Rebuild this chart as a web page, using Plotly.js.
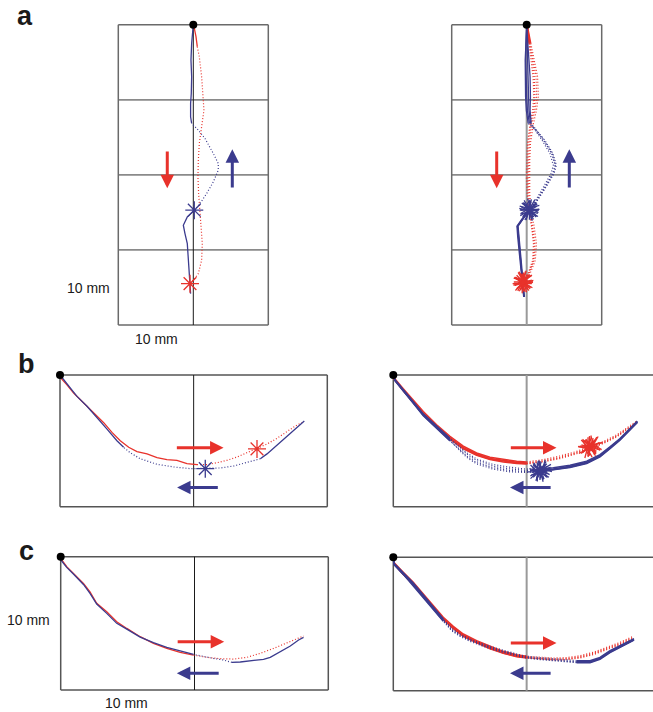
<!DOCTYPE html>
<html>
<head>
<meta charset="utf-8">
<script src="https://cdn.plot.ly/plotly-3.0.1.min.js"></script>
<style>
html,body{margin:0;padding:0;background:#fff;overflow:hidden;}
#chart{width:653px;height:712px;}
</style>
</head>
<body>
<div id="chart"></div>
<script>
// ===== DATA (mm; x = lateral, y = depth, start point at 0/0 or -10/0) =====
// Panel a, left (single trial)
const aL_red_x = [0,0.09,0.36,0.53,0.8,1.11,1.33,1.42,1.11,0.8,0.67,0.62,0.71,0.89,1.02,1.2,1.11,0.67,0,-0.44];
const aL_red_y = [0,-0.27,-1.6,-2.93,-4.27,-6.93,-9.6,-11.38,-13.6,-15.82,-18.04,-20.27,-22.49,-24.71,-26.93,-29.16,-31.38,-33.16,-34.04,-34.49];
const aL_blue_x = [-0.36,-0.53,-0.67,-0.8,-1.11,-1.33,-0.8,0.13,0.89,1.78,2.67,3.33,3.33,2.67,1.56,0.67,-0.22,-0.36,-0.36,-0.27,-0.22,-0.31,-0.22,-0.09,0];
const aL_blue_y = [-35.82,-33.6,-31.38,-29.16,-27.82,-26.71,-25.6,-24.71,-23.82,-22.49,-20.93,-19.38,-18.49,-17.16,-15.16,-14.04,-13.16,-12.27,-10.49,-9.16,-6.93,-4.71,-2.49,-0.71,0];
const aL_redStar_x = [-0.44], aL_redStar_y = [-34.49];
const aL_blueStar_x = [0.13], aL_blueStar_y = [-24.71];

// Panel a, right (several trials)
const aR_red_y = [0,-0.27,-2.49,-4.71,-6.93,-9.6,-11.38,-13.16,-15.82,-18.04,-20.27,-22.49,-24.71,-26.93,-29.16,-31.38,-33.38,-34.27];
const aR_red1_x = [0,0.09,0.44,0.89,1.24,1.33,1.11,0.67,0.36,0.27,0.22,0.27,0.44,0.8,1.11,0.98,0.22,-0.44];
const aR_red2_x = [0,0.05,0.3,0.6,0.85,0.95,0.8,0.45,0.1,0.0,-0.05,0.05,0.3,0.65,0.9,0.8,0.1,-0.5];
const aR_red3_x = [0,0.12,0.55,1.05,1.45,1.55,1.3,0.9,0.5,0.4,0.35,0.4,0.6,1.0,1.3,1.15,0.35,-0.35];
const aR_red4_x = [0,0.07,0.35,0.75,1.0,1.1,0.95,0.55,0.2,0.12,0.1,0.15,0.35,0.7,1.0,0.9,0.15,-0.6];
const aR_blue_y = [-36.27,-33.6,-30.93,-28.27,-26.84,-25.82,-24.71,-23.38,-21.6,-19.82,-18.71,-17.16,-15.38,-13.96,-13.16,-11.38,-9.6,-6.93,-4.71,-2.49,-0.27,0];
const aR_blue1_x = [-0.36,-0.62,-0.89,-1.11,-1.24,-0.53,0.36,1.33,2.44,3.47,3.78,3.33,2.22,1.11,0.36,0.09,0.0,-0.09,-0.13,-0.09,0.0,0];
const aR_blue2_x = [-0.3,-0.55,-0.8,-1.0,-1.15,-0.45,0.3,1.2,2.25,3.25,3.55,3.1,2.05,1.0,0.5,0.3,0.25,0.2,0.15,0.05,0.0,0];
const aR_blue3_x = [-0.4,-0.7,-0.95,-1.2,-1.3,-0.6,0.4,1.45,2.6,3.65,3.95,3.5,2.4,1.25,0.6,0.45,0.5,0.45,0.3,0.1,0.0,0];
const aR_blue4_x = [-0.38,-0.6,-0.85,-1.05,-1.2,-0.5,0.42,1.38,2.5,3.55,3.85,3.4,2.3,1.2,0.2,-0.05,-0.15,-0.2,-0.2,-0.1,0.0,0];
const aR_redStar_x = [-0.44,-0.5,-0.35,-0.6,-0.4,-0.55];
const aR_redStar_y = [-34.27,-34.1,-34.4,-34.5,-34.0,-34.35];
const aR_blueStar_x = [0.36,0.3,0.4,0.42,0.25,0.45];
const aR_blueStar_y = [-24.71,-24.5,-24.9,-24.6,-24.8,-24.4];

// Panel b, left
const bL_red_x = [-10,-9.93,-9.48,-8.98,-8.23,-7.48,-6.73,-6.11,-5.49,-4.86,-4.24,-3.49,-2.74,-2.0,-1.25,-0.5,0.25,1.0,1.75,2.49,3.24,3.99,4.74,5.49,6.23,6.98,7.61,8.10];
const bL_red_y = [0,-0.25,-0.75,-1.37,-2.12,-2.87,-3.62,-4.36,-4.99,-5.49,-5.81,-5.99,-6.28,-6.43,-6.48,-6.73,-6.81,-6.81,-6.66,-6.48,-6.23,-5.91,-5.61,-5.24,-4.81,-4.31,-3.87,-3.62];
const bL_blue_x = [8.28,7.73,6.98,6.23,5.49,4.99,3.99,2.99,2.0,0.87,-0.25,-1.50,-2.74,-3.99,-4.74,-5.24,-5.74,-6.48,-7.23,-7.98,-8.73,-9.23,-9.73,-10];
const bL_blue_y = [-3.49,-3.99,-4.61,-5.36,-5.99,-6.36,-6.66,-6.91,-7.06,-7.11,-7.11,-6.98,-6.78,-6.36,-5.91,-5.49,-4.99,-4.11,-3.24,-2.37,-1.62,-1.0,-0.37,0];
const bL_redStar_x = [4.74], bL_redStar_y = [-5.61];
const bL_blueStar_x = [0.87], bL_blueStar_y = [-7.11];

// Panel b, right
const bR_red_x = [-10,-9.95,-9.25,-8.5,-7.75,-6.75,-5.75,-4.75,-3.75,-2.75,-1.75,-0.75,0,1.25,2.5,3.75,4.75,5.75,6.75,7.5,8.25];
const bR_red1_y = [0,-0.25,-1.13,-2.0,-2.88,-3.88,-4.75,-5.5,-6.0,-6.33,-6.5,-6.63,-6.68,-6.5,-6.25,-5.88,-5.5,-5.13,-4.63,-4.13,-3.58];
const bR_red2_y = [0,-0.3,-1.2,-2.1,-3.0,-4.0,-4.88,-5.6,-6.1,-6.42,-6.6,-6.72,-6.75,-6.6,-6.35,-5.98,-5.6,-5.2,-4.7,-4.2,-3.65];
const bR_red3_y = [0,-0.2,-1.05,-1.92,-2.78,-3.78,-4.65,-5.4,-5.92,-6.25,-6.42,-6.55,-6.6,-6.42,-6.15,-5.8,-5.42,-5.05,-4.55,-4.05,-3.5];
const bR_red4_y = [0,-0.28,-1.18,-2.05,-2.95,-3.95,-4.82,-5.55,-6.05,-6.38,-6.55,-6.68,-6.72,-6.55,-6.3,-5.92,-5.55,-5.15,-4.65,-4.15,-3.6];
const bR_blue_x = [8.3,7.75,7.0,6.25,5.5,4.5,3.25,2.0,1.0,0,-1.25,-2.5,-3.75,-4.5,-5.0,-5.75,-6.75,-7.75,-8.5,-9.25,-9.88,-10];
const bR_blue1_y = [-3.55,-4.13,-4.88,-5.5,-6.13,-6.63,-6.93,-7.13,-7.25,-7.25,-7.13,-6.93,-6.5,-6.0,-5.58,-4.88,-3.95,-3.0,-2.08,-1.18,-0.38,0];
const bR_blue2_y = [-3.6,-4.2,-4.95,-5.6,-6.22,-6.72,-7.02,-7.2,-7.32,-7.35,-7.25,-7.05,-6.65,-6.15,-5.7,-5.0,-4.05,-3.1,-2.15,-1.25,-0.42,0];
const bR_blue3_y = [-3.5,-4.08,-4.82,-5.45,-6.05,-6.55,-6.85,-7.05,-7.18,-7.15,-7.0,-6.8,-6.38,-5.9,-5.48,-4.8,-3.88,-2.95,-2.02,-1.12,-0.35,0];
const bR_blue4_y = [-3.58,-4.15,-4.9,-5.55,-6.18,-6.68,-6.98,-7.18,-7.3,-7.4,-7.35,-7.15,-6.75,-6.25,-5.75,-4.95,-4.0,-3.05,-2.1,-1.2,-0.4,0];
const bR_redStar_x = [4.6,4.8,4.9,4.7,4.55,5.0];
const bR_redStar_y = [-5.45,-5.5,-5.35,-5.4,-5.6,-5.3];
const bR_blueStar_x = [1.0,0.9,1.1,0.8,1.2,1.05];
const bR_blueStar_y = [-7.25,-7.3,-7.2,-7.35,-7.15,-7.4];

// Panel c, left
const cL_red_x = [-10,-9.95,-9.55,-9.05,-8.30,-7.81,-7.31,-6.56,-5.81,-5.06,-4.06,-3.07,-2.07,-1.07,-0.07,0.92,1.92,2.92,3.92,4.91,5.91,6.91,7.66,8.15];
const cL_red_y = [0,-0.2,-0.75,-1.25,-2.0,-2.63,-3.5,-4.13,-4.88,-5.38,-6.0,-6.5,-6.88,-7.18,-7.38,-7.55,-7.65,-7.68,-7.55,-7.25,-6.88,-6.45,-6.13,-5.95];
const cL_blue_x = [8.15,7.78,7.16,6.41,5.66,5.16,4.41,3.42,2.79,2.17,1.42,0.67,-0.07,-1.07,-2.07,-3.07,-4.06,-5.06,-5.81,-6.56,-7.31,-7.81,-8.30,-9.05,-9.55,-9.95,-10];
const cL_blue_y = [-6.05,-6.25,-6.7,-7.13,-7.55,-7.7,-7.8,-7.9,-7.93,-7.75,-7.63,-7.45,-7.33,-7.08,-6.8,-6.45,-6.03,-5.43,-5.0,-4.25,-3.55,-2.75,-2.08,-1.3,-0.8,-0.3,0];

// Panel c, right
const cR_red_x = [-10,-9.95,-9.25,-8.5,-7.75,-7.0,-6.25,-5.5,-4.75,-3.75,-2.75,-1.75,-0.75,0,1.0,2.0,3.0,4.0,5.0,6.0,7.0,8.0];
const cR_red1_y = [0,-0.45,-1.2,-1.95,-2.83,-3.7,-4.58,-5.25,-5.83,-6.33,-6.75,-7.13,-7.38,-7.5,-7.58,-7.63,-7.6,-7.45,-7.2,-6.83,-6.45,-6.0];
const cR_red2_y = [0,-0.5,-1.28,-2.05,-2.93,-3.82,-4.68,-5.35,-5.92,-6.42,-6.85,-7.2,-7.45,-7.55,-7.65,-7.7,-7.68,-7.55,-7.3,-6.93,-6.55,-6.1];
const cR_red3_y = [0,-0.4,-1.12,-1.88,-2.75,-3.62,-4.5,-5.18,-5.75,-6.25,-6.68,-7.05,-7.3,-7.42,-7.5,-7.55,-7.52,-7.38,-7.12,-6.75,-6.38,-5.92];
const cR_red4_y = [0,-0.48,-1.25,-2.0,-2.88,-3.75,-4.62,-5.3,-5.88,-6.38,-6.8,-7.18,-7.42,-7.52,-7.6,-7.66,-7.63,-7.5,-7.25,-6.88,-6.5,-6.05];
const cR_blue_x = [8.05,7.25,6.25,5.5,4.75,3.75,2.75,1.75,0.75,-0.25,-1.25,-2.25,-3.25,-4.25,-5.0,-5.63,-6.25,-7.0,-7.75,-8.5,-9.25,-9.95,-10];
const cR_blue1_y = [-6.15,-6.58,-7.08,-7.58,-7.83,-7.83,-7.75,-7.65,-7.58,-7.45,-7.2,-6.9,-6.58,-6.2,-5.83,-5.4,-4.7,-3.83,-2.9,-2.0,-1.2,-0.5,0];
const cR_blue2_y = [-6.2,-6.65,-7.15,-7.65,-7.9,-7.9,-7.82,-7.72,-7.65,-7.52,-7.28,-7.0,-6.68,-6.3,-5.92,-5.5,-4.8,-3.92,-2.98,-2.08,-1.28,-0.55,0];
const cR_blue3_y = [-6.1,-6.52,-7.0,-7.5,-7.75,-7.75,-7.68,-7.58,-7.5,-7.38,-7.12,-6.82,-6.5,-6.12,-5.75,-5.32,-4.62,-3.75,-2.82,-1.92,-1.12,-0.45,0];
const cR_blue4_y = [-6.18,-6.6,-7.1,-7.6,-7.86,-7.86,-7.78,-7.68,-7.6,-7.48,-7.24,-6.95,-6.62,-6.25,-5.88,-5.45,-4.75,-3.88,-2.95,-2.05,-1.25,-0.52,0];

// Start points
const startA_x = [0], startA_y = [0];
const startBC_x = [-10], startBC_y = [0];

// Text
const panelLetters = ['a','b','c'];
const scaleLabel = '10 mm';

// ===== STYLE =====
const RED = '#E8322B', BLUE = '#3B3B8E';
const W = 653, H = 712, PAD = 8;
const DOT = '1px,2px';

const traces = [];
const layout = {
  width: W, height: H, margin: {l:0, r:0, t:0, b:0},
  paper_bgcolor: '#fff', plot_bgcolor: 'rgba(0,0,0,0)',
  showlegend: false, shapes: [], annotations: [],
  font: {family: 'Liberation Sans, Arial, sans-serif', color: '#222'}
};

function setupPanel(n, L, R, T, B, x0, x1, y0, y1) {
  const sx = (R - L) / (x1 - x0), sy = (B - T) / (y1 - y0);
  const dl = L - PAD, dr = Math.min(W, R + PAD), dt = T - PAD, db = B + PAD;
  const ax = {domain: [dl / W, dr / W], range: [x0 - (L - dl) / sx, x0 + (dr - L) / sx],
    showgrid: false, zeroline: false, showticklabels: false, showline: false, ticks: '', fixedrange: true};
  const ay = {domain: [1 - db / H, 1 - dt / H], range: [y0 - (db - B) / sy, y1 + (T - dt) / sy],
    showgrid: false, zeroline: false, showticklabels: false, showline: false, ticks: '', fixedrange: true};
  const s = n === 1 ? '' : String(n);
  layout['xaxis' + s] = Object.assign(ax, {anchor: 'y' + s});
  layout['yaxis' + s] = Object.assign(ay, {anchor: 'x' + s});
  return ['x' + s, 'y' + s];
}

const P = {
  aL: setupPanel(1, 118.3, 268.3, 24.7, 325, -10, 10, -40, 0),
  aR: setupPanel(2, 451.7, 601.7, 24.7, 325, -10, 10, -40, 0),
  bL: setupPanel(3, 60, 327.3, 375, 506.7, -10, 10, -10, 0),
  bR: setupPanel(4, 393.3, 660, 375, 506.7, -10, 10, -10, 0),
  cL: setupPanel(5, 60.7, 328.3, 556.7, 690, -10, 10, -10, 0),
  cR: setupPanel(6, 393.3, 660, 557.3, 690.7, -10, 10, -10, 0)
};

function line(p, x0, y0, x1, y1, color, width) {
  layout.shapes.push({type: 'line', xref: p[0], yref: p[1], x0, y0, x1, y1, layer: 'below',
    line: {color, width}});
}
function gridA(p, left) {
  [0, -40].forEach(y => line(p, -10, y, 10, y, '#6a6a6a', 1.5));
  [-10, -20, -30].forEach(y => line(p, -10, y, 10, y, '#8a8a8a', 1.8));
  [-10, 10].forEach(x => line(p, x, -40, x, 0, '#6a6a6a', 1.5));
  line(p, 0, -40, 0, 0, left ? '#1a1a1a' : '#9a9a9a', left ? 1 : 2);
}
function gridBC(p, left) {
  [0, -10].forEach(y => line(p, -10, y, 10, y, '#555', 1.5));
  line(p, -10, -10, -10, 0, '#555', 1.5);
  if (left) line(p, 10, -10, 10, 0, '#555', 1.5);
  line(p, 0, -10, 0, 0, left ? '#1a1a1a' : '#9a9a9a', left ? 1 : 2);
}
gridA(P.aL, true); gridA(P.aR, false);
gridBC(P.bL, true); gridBC(P.bR, false);
gridBC(P.cL, true); gridBC(P.cR, false);

function addPath(p, xs, ys, segs, color, width) {
  segs.forEach(([i0, i1, kind]) => {
    traces.push({type: 'scatter', mode: 'lines', x: xs.slice(i0, i1 + 1), y: ys.slice(i0, i1 + 1),
      xaxis: p[0], yaxis: p[1], hoverinfo: 'skip',
      line: {color, width: kind === 'dot' ? Math.min(width, 1.2) : width, dash: kind === 'dot' ? DOT : 'solid'}});
  });
}
function addStars(p, xs, ys, color, size, angles) {
  traces.push({type: 'scatter', mode: 'markers', x: xs, y: ys, xaxis: p[0], yaxis: p[1],
    hoverinfo: 'skip', cliponaxis: false,
    marker: {symbol: 'asterisk-open', size, color, angle: angles || 0, line: {color, width: 1.3}}});
}
function addStart(p, xs, ys) {
  traces.push({type: 'scatter', mode: 'markers', x: xs, y: ys, xaxis: p[0], yaxis: p[1],
    hoverinfo: 'skip', cliponaxis: false, marker: {size: 8, color: '#000'}});
}
function arrow(p, tx, ty, fx, fy, color) {
  layout.annotations.push({xref: p[0], yref: p[1], axref: p[0], ayref: p[1],
    x: tx, y: ty, ax: fx, ay: fy, text: '', showarrow: true,
    arrowhead: 2, arrowsize: 0.9, arrowwidth: 3, arrowcolor: color, standoff: 0, startstandoff: 0});
}
function label(text, px, py, size, bold, xanchor) {
  layout.annotations.push({xref: 'paper', yref: 'paper', x: px / W, y: 1 - py / H,
    xanchor: xanchor || 'center', yanchor: 'middle', showarrow: false,
    text: bold ? '<b>' + text + '</b>' : text,
    font: {size, color: '#1a1a1a', family: 'Liberation Sans, Arial, sans-serif'}});
}

// ----- Panel a left -----
addPath(P.aL, aL_red_x, aL_red_y, [[0, 3, 'solid'], [3, aL_red_x.length - 1, 'dot']], RED, 1.3);
addPath(P.aL, aL_blue_x, aL_blue_y, [[0, 7, 'solid'], [7, 16, 'dot'], [16, aL_blue_x.length - 1, 'solid']], BLUE, 1.3);
addStars(P.aL, aL_redStar_x, aL_redStar_y, RED, 15);
addStars(P.aL, aL_blueStar_x, aL_blueStar_y, BLUE, 15);
addStart(P.aL, startA_x, startA_y);

// ----- Panel a right -----
[aR_red1_x, aR_red2_x, aR_red3_x, aR_red4_x].forEach(xs =>
  addPath(P.aR, xs, aR_red_y, [[0, 2, 'solid'], [2, xs.length - 1, 'dot']], RED, 1.3));
[aR_blue1_x, aR_blue2_x, aR_blue3_x, aR_blue4_x].forEach(xs =>
  addPath(P.aR, xs, aR_blue_y, [[0, 6, 'solid'], [6, 14, 'dot'], [14, xs.length - 1, 'solid']], BLUE, 1.3));
addStars(P.aR, aR_redStar_x, aR_redStar_y, RED, 16, [0, 15, 30, 45, 60, 75]);
addStars(P.aR, aR_blueStar_x, aR_blueStar_y, BLUE, 16, [0, 15, 30, 45, 60, 75]);
addStart(P.aR, startA_x, startA_y);

// ----- Panel b left -----
addPath(P.bL, bL_red_x, bL_red_y, [[0, 16, 'solid'], [16, bL_red_x.length - 1, 'dot']], RED, 1.3);
addPath(P.bL, bL_blue_x, bL_blue_y, [[0, 5, 'solid'], [5, 15, 'dot'], [15, bL_blue_x.length - 1, 'solid']], BLUE, 1.3);
addStars(P.bL, bL_redStar_x, bL_redStar_y, RED, 15);
addStars(P.bL, bL_blueStar_x, bL_blueStar_y, BLUE, 15);
addStart(P.bL, startBC_x, startBC_y);

// ----- Panel b right -----
[bR_red1_y, bR_red2_y, bR_red3_y, bR_red4_y].forEach(ys =>
  addPath(P.bR, bR_red_x, ys, [[0, 12, 'solid'], [12, ys.length - 1, 'dot']], RED, 1.5));
[bR_blue1_y, bR_blue2_y, bR_blue3_y, bR_blue4_y].forEach(ys =>
  addPath(P.bR, bR_blue_x, ys, [[0, 8, 'solid'], [8, 15, 'dot'], [15, ys.length - 1, 'solid']], BLUE, 1.5));
addStars(P.bR, bR_redStar_x, bR_redStar_y, RED, 16, [0, 15, 30, 45, 60, 75]);
addStars(P.bR, bR_blueStar_x, bR_blueStar_y, BLUE, 16, [0, 15, 30, 45, 60, 75]);
addStart(P.bR, startBC_x, startBC_y);

// ----- Panel c left -----
addPath(P.cL, cL_red_x, cL_red_y, [[0, 14, 'solid'], [14, cL_red_x.length - 1, 'dot']], RED, 1.3);
addPath(P.cL, cL_blue_x, cL_blue_y, [[0, 8, 'solid'], [8, 12, 'dot'], [12, cL_blue_x.length - 1, 'solid']], BLUE, 1.3);
addStart(P.cL, startBC_x, startBC_y);

// ----- Panel c right -----
[cR_red1_y, cR_red2_y, cR_red3_y, cR_red4_y].forEach(ys =>
  addPath(P.cR, cR_red_x, ys, [[0, 13, 'solid'], [13, ys.length - 1, 'dot']], RED, 1.5));
[cR_blue1_y, cR_blue2_y, cR_blue3_y, cR_blue4_y].forEach(ys =>
  addPath(P.cR, cR_blue_x, ys, [[0, 5, 'solid'], [5, 16, 'dot'], [16, ys.length - 1, 'solid']], BLUE, 1.5));
addStart(P.cR, startBC_x, startBC_y);

// ----- Direction arrows -----
arrow(P.aL, -3.47, -21.8, -3.47, -16.7, RED);
arrow(P.aL, 5.2, -16.6, 5.2, -21.9, BLUE);
arrow(P.aR, -4.0, -21.8, -4.0, -16.7, RED);
arrow(P.aR, 5.68, -16.6, 5.68, -21.9, BLUE);
arrow(P.bL, 2.24, -5.53, -1.37, -5.53, RED);
arrow(P.bL, -1.24, -8.55, 1.92, -8.55, BLUE);
arrow(P.bR, 2.24, -5.53, -1.3, -5.53, RED);
arrow(P.bR, -1.25, -8.55, 1.91, -8.55, BLUE);
arrow(P.cL, 2.22, -6.38, -1.37, -6.38, RED);
arrow(P.cL, -1.32, -8.75, 1.92, -8.75, BLUE);
arrow(P.cR, 2.24, -6.42, -1.3, -6.42, RED);
arrow(P.cR, -1.25, -8.7, 1.91, -8.7, BLUE);

// ----- Labels -----
label(panelLetters[0], 25, 16, 27, true);
label(panelLetters[1], 26, 364, 27, true);
label(panelLetters[2], 26, 551, 27, true);
label(scaleLabel, 89, 288, 14, false);
label(scaleLabel, 156, 339, 14, false);
label(scaleLabel, 28, 620, 14, false);
label(scaleLabel, 126, 703, 14, false);

Plotly.newPlot('chart', traces, layout, {staticPlot: true, displayModeBar: false});
</script>
</body>
</html>
